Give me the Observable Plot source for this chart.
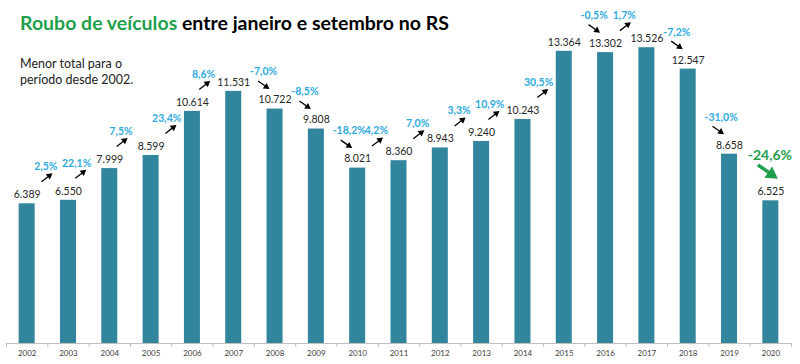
<!DOCTYPE html>
<html><head><meta charset="utf-8">
<script src="https://cdn.jsdelivr.net/npm/d3@7"></script>
<script src="https://cdn.jsdelivr.net/npm/@observablehq/plot@0.6"></script>
<style>
html,body{margin:0;padding:0;background:#fff;}
#wrap{position:relative;width:800px;height:364px;font-family:Lato,sans-serif;}
#title{position:absolute;left:20px;top:13px;font-weight:bold;font-size:19.5px;line-height:19.5px;color:#000;white-space:nowrap;}
#title .g{color:#1fa04c;}
#sub{position:absolute;left:20px;top:56px;font-size:12.5px;line-height:16px;color:#222;}
</style></head>
<body>
<div id="wrap"><div id="chart"></div>
<div id="title"><span class="g">Roubo de veículos</span> entre janeiro e setembro no RS</div>
<div id="sub">Menor total para o<br>período desde 2002.</div>
</div>
<script>
const years = [2002,2003,2004,2005,2006,2007,2008,2009,2010,2011,2012,2013,2014,2015,2016,2017,2018,2019,2020];
const totals = [6389,6550,7999,8599,10614,11531,10722,9808,8021,8360,8943,9240,10243,13364,13302,13526,12547,8658,6525];
const changes = [null,2.5,22.1,7.5,23.4,8.6,-7.0,-8.5,-18.2,4.2,7.0,3.3,10.9,30.5,-0.5,1.7,-7.2,-31.0,-24.6];
const highlightYear = 2020;

const W=800,H=364,mL=6,mR=9,mT=15,mB=21;
const xDom=[years[0]-0.5, years[years.length-1]+0.5], yDom=[0,15000];
const pxX=(xDom[1]-xDom[0])/(W-mL-mR), pxY=(yDom[1]-yDom[0])/(H-mT-mB);
const barHalf = 8*pxX;
const valDy = 9;

const loc = d3.formatLocale({decimal:",",thousands:".",grouping:[3],currency:["",""]});
const fmt = loc.format(",");

const data = years.map((y,i)=>({year:y,total:totals[i],change:changes[i],prev:i?totals[i-1]:null}));
const boundaries = [xDom[0], ...years.map(y=>y+0.5)];

const ch = data.filter(d=>d.change!=null).map(d=>{
  const up = d.change>0, hl = d.year===highlightYear;
  const ly = Math.min(d.prev,d.total) + (hl?45:37)*pxY;
  // avoid the bar's own value label when an increase label sits beside it
  const near = Math.abs(ly - (d.total + valDy*pxY))/pxY < 15.2;
  const ax = hl ? -1 : up ? (near ? -18.5 : -11) : -25;
  const lx = d.year + ax*pxX;
  const s = hl?[-12,9]:up?[-16,15]:[8,9];
  const e = hl?[8,23]:up?[-5,6.5]:[19.5,17];
  const vx=e[0]-s[0], vy=e[1]-s[1], len=Math.hypot(vx,vy);
  const r = hl?5:2.5;
  const tip = 2*Math.sqrt(Math.PI*r*r/(3*Math.sqrt(3)));
  const c=[e[0]-vx/len*tip, e[1]-vy/len*tip];
  return {hl, up, lx, ly,
    label: d.change.toFixed(1).replace(".",",")+"%",
    sx: lx+s[0]*pxX, sy: ly-s[1]*pxY,
    cx: lx+c[0]*pxX, cy: ly-c[1]*pxY,
    rot: Math.atan2(vy,vx)*180/Math.PI+90};
});
const chN = ch.filter(d=>!d.hl), chH = ch.filter(d=>d.hl);
const pctStyle = {x:"lx",y:"ly",text:"label",fontSize:10.5,fontWeight:"bold",fill:"#2eaadd"};

const chart = Plot.plot({
  width:W,height:H,marginLeft:mL,marginRight:mR,marginTop:mT,marginBottom:mB,
  x:{domain:xDom},
  y:{domain:yDom,axis:null},
  style:{fontFamily:"Lato, sans-serif",fontSize:"8px",background:"transparent",color:"#404040"},
  marks:[
    Plot.rectY(data,{x1:d=>d.year-barHalf,x2:d=>d.year+barHalf,y:"total",fill:"#31859c"}),
    Plot.ruleY([0],{stroke:"#bfbfbf"}),
    Plot.ruleX(boundaries,{y1:0,y2:-4*pxY,stroke:"#bfbfbf"}),
    Plot.axisX({ticks:years,tickFormat:d=>String(d),tickSize:0,tickPadding:7,fontSize:8,fill:"#404040"}),
    Plot.text(data,{x:"year",y:"total",text:d=>fmt(d.total),dy:-valDy,fontSize:10.5,fill:"#262626"}),
    Plot.text(chN.filter(d=>d.up),{...pctStyle,textAnchor:"end"}),
    Plot.text(chN.filter(d=>!d.up),{...pctStyle,textAnchor:"start"}),
    Plot.text(chH,{x:"lx",y:"ly",text:"label",fontSize:14,fontWeight:"bold",fill:"#1fa04c"}),
    Plot.link(chN,{x1:"sx",y1:"sy",x2:"cx",y2:"cy",stroke:"#000",strokeWidth:1.3}),
    Plot.dot(chN,{x:"cx",y:"cy",symbol:"triangle",r:2.5,fill:"#000",stroke:"none",rotate:"rot"}),
    Plot.link(chH,{x1:"sx",y1:"sy",x2:"cx",y2:"cy",stroke:"#1fa04c",strokeWidth:3.5}),
    Plot.dot(chH,{x:"cx",y:"cy",symbol:"triangle",r:5,fill:"#1fa04c",stroke:"none",rotate:"rot"})
  ]
});
document.getElementById("chart").appendChild(chart);
</script>
</body></html>
